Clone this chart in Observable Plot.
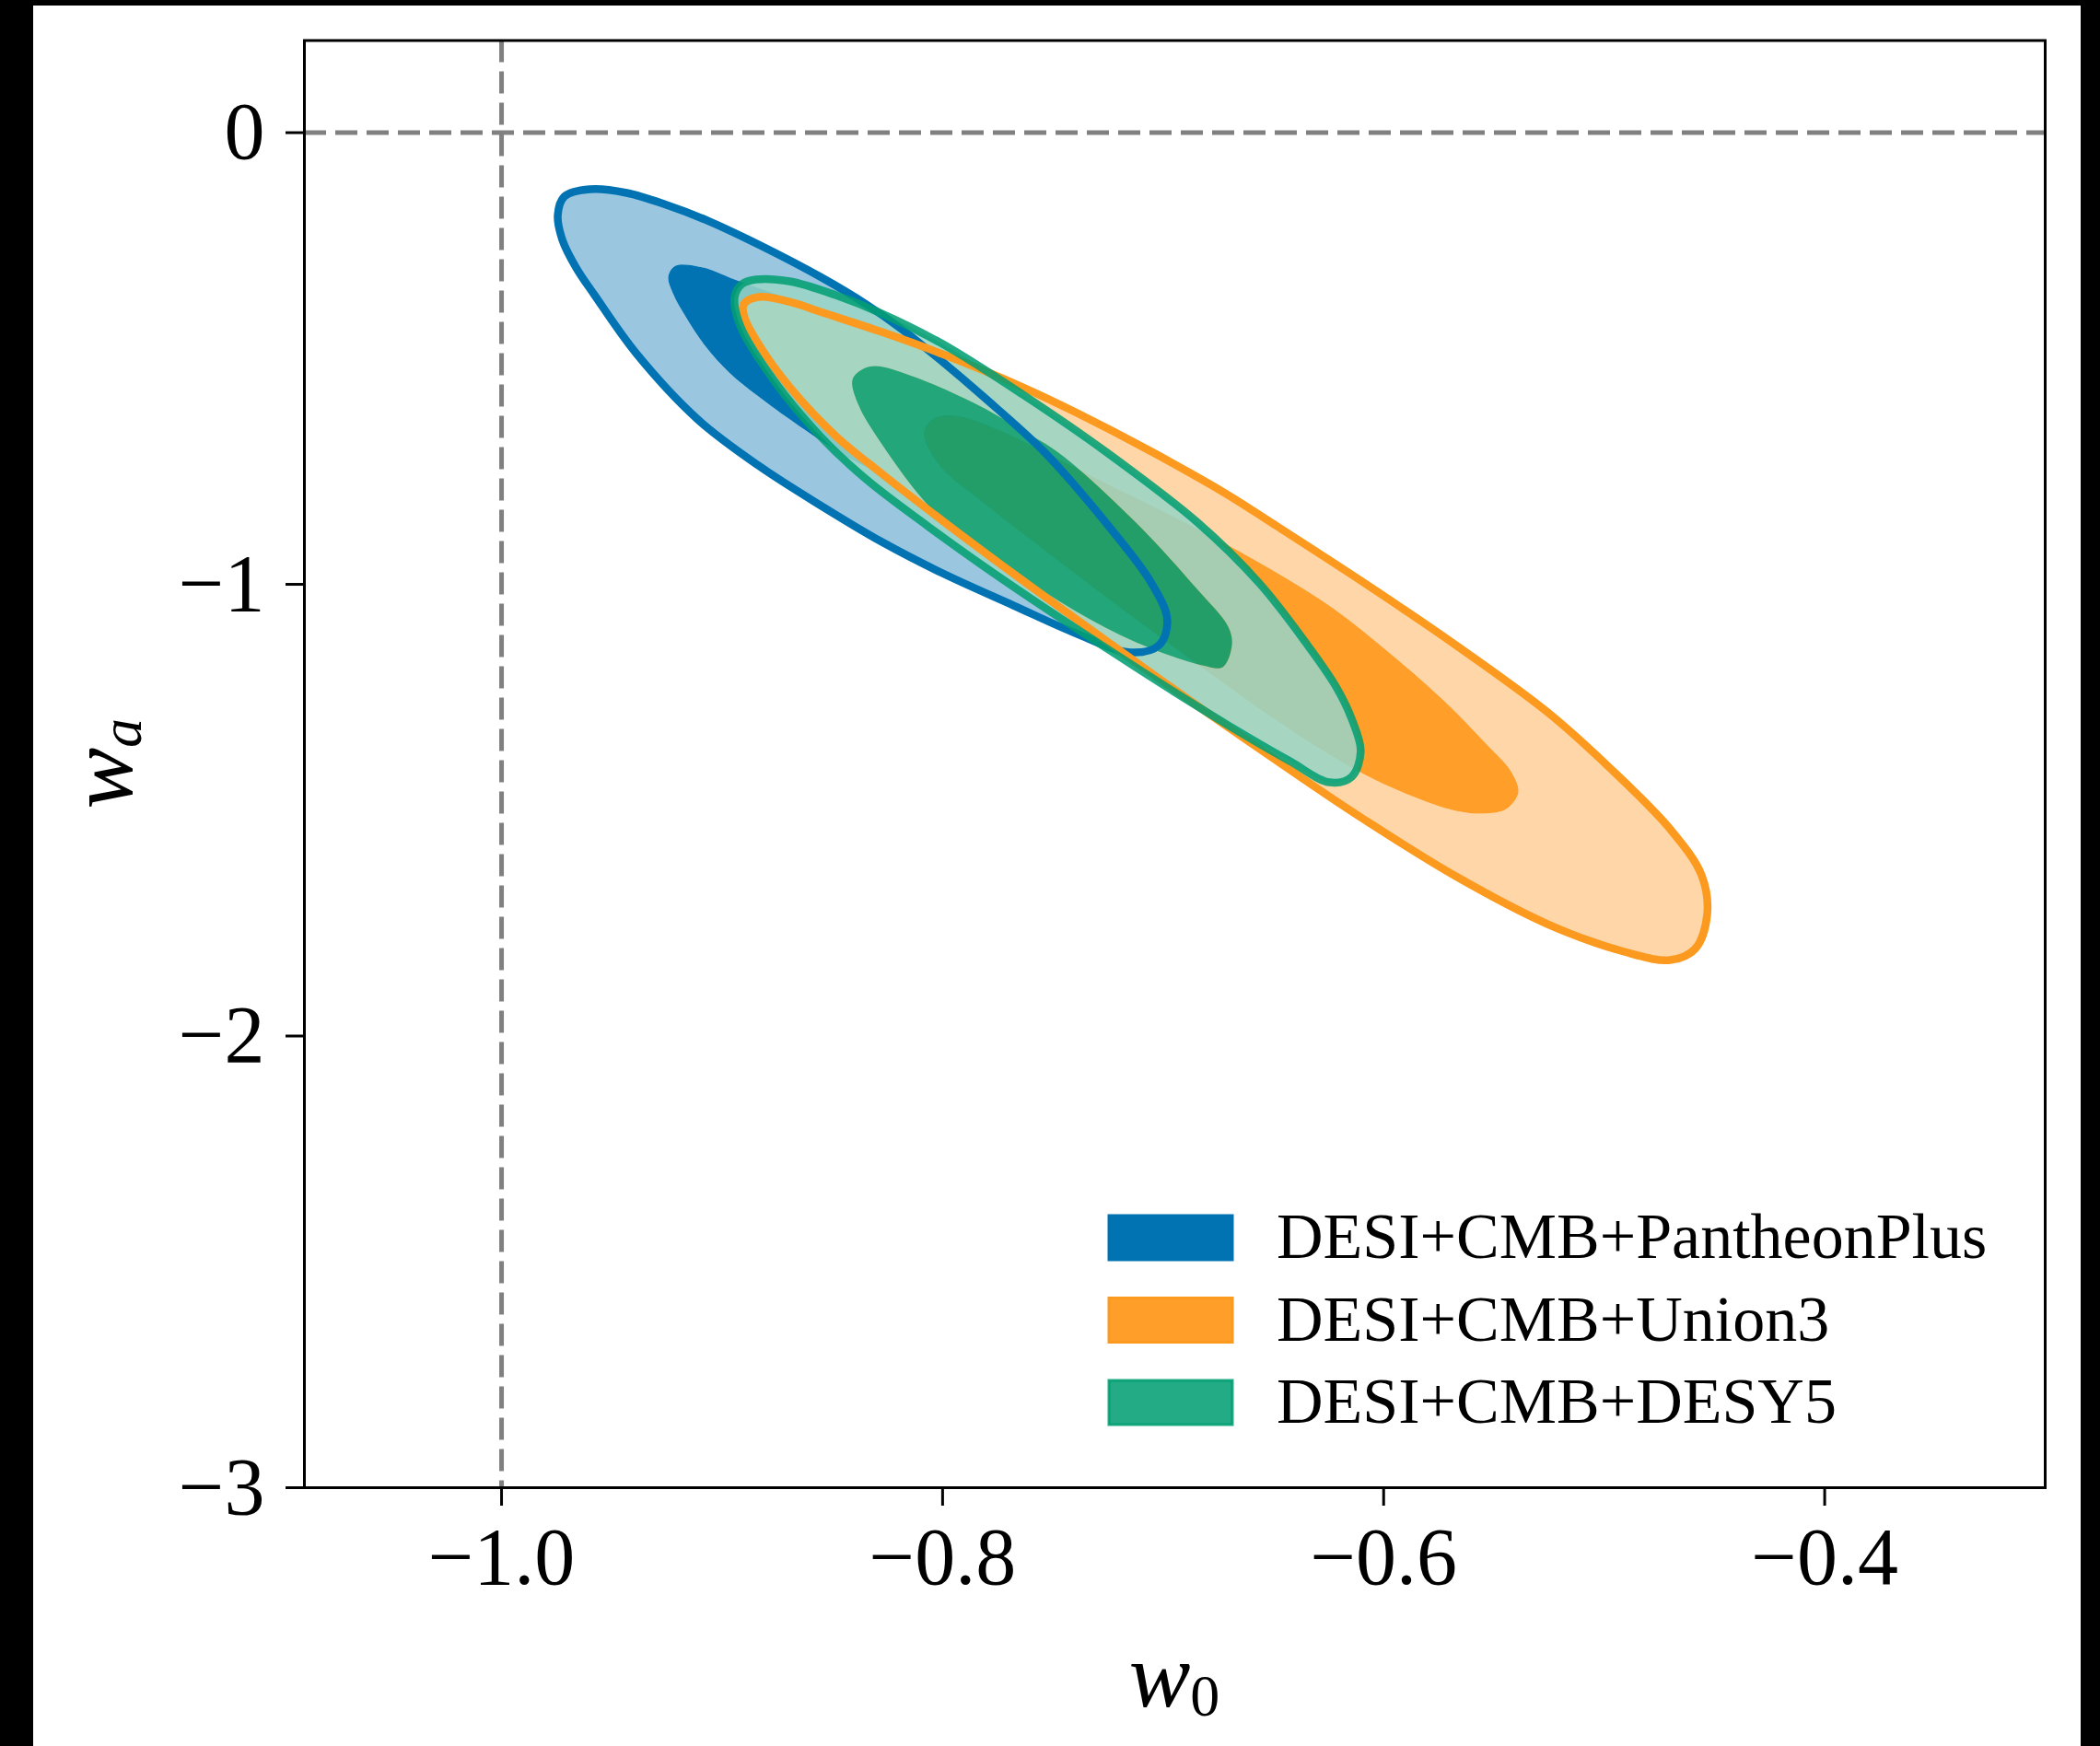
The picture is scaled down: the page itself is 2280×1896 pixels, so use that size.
<!DOCTYPE html>
<html>
<head>
<meta charset="utf-8">
<script src="https://cdn.jsdelivr.net/npm/d3@7"></script>
<script src="https://cdn.jsdelivr.net/npm/@observablehq/plot@0.6"></script>
<style>
  html, body { margin: 0; padding: 0; background: #000; }
  #page { position: absolute; left: 36px; top: 6px; width: 2223px; height: 1890px; background: #fff; overflow: hidden; }
</style>
</head>
<body>
<div id="page"></div>
<script>
// ---------- axes ----------
const xDomain = [-1.0894, -0.3];
const yDomain = [-3, 0.204];
const xTicks = [-1.0, -0.8, -0.6, -0.4];
const xTickLabels = ["\u22121.0", "\u22120.8", "\u22120.6", "\u22120.4"];
const yTicks = [0, -1, -2, -3];
const yTickLabels = ["0", "\u22121", "\u22122", "\u22123"];
const refW0 = [-1.0];
const refWa = [0];

// ---------- series ----------
const seriesNames = ["DESI+CMB+PantheonPlus", "DESI+CMB+Union3", "DESI+CMB+DESY5"];
const lineColors = ["#0173b2", "#fb9a1f", "#029e73"];
const lineOpacity = [1, 1, 0.87];
const outerFill = ["#9ac6e0", "#fed6a7", "#99d5c6"];
const innerFill = ["#0173b2", "#ff9e28", "#029e73"];
const fillOpacity = [1, 1, 0.87];

// contour outlines [w0, wa] (95% and 68% regions)
const pantheon95 = [
  [-0.9745,-0.1825],[-0.9716,-0.1417],[-0.9599,-0.1254],[-0.9432,-0.1335],[-0.9252,-0.1600],
  [-0.9056,-0.1967],[-0.8835,-0.2477],[-0.8555,-0.3191],[-0.8346,-0.3802],[-0.8179,-0.4373],
  [-0.8012,-0.5025],[-0.7816,-0.5841],[-0.7540,-0.7064],[-0.7260,-0.8634],[-0.7052,-0.9979],
  [-0.6981,-1.0795],[-0.7018,-1.1345],[-0.7148,-1.1508],[-0.7398,-1.1080],[-0.7678,-1.0469],
  [-0.8000,-0.9755],[-0.8275,-0.9062],[-0.8555,-0.8247],[-0.8835,-0.7370],[-0.9110,-0.6350],
  [-0.9390,-0.4883],[-0.9578,-0.3598],[-0.9662,-0.2987],[-0.9724,-0.2375]
];
const pantheon68 = [
  [-0.9244,-0.3191],[-0.9211,-0.2946],[-0.9085,-0.2987],[-0.8943,-0.3252],[-0.8722,-0.3639],
  [-0.8513,-0.4067],[-0.8263,-0.4781],[-0.7970,-0.5800],[-0.7720,-0.6860],[-0.7615,-0.7778],
  [-0.7678,-0.8287],[-0.7887,-0.8185],[-0.8158,-0.7778],[-0.8417,-0.7227],[-0.8626,-0.6575],
  [-0.8835,-0.5841],[-0.8964,-0.5331],[-0.9077,-0.4720],[-0.9161,-0.4108],[-0.9223,-0.3558]
];
const union95 = [
  [-0.8902,-0.3802],[-0.8835,-0.3639],[-0.8680,-0.3761],[-0.8555,-0.3965],[-0.8275,-0.4414],
  [-0.8000,-0.4903],[-0.7636,-0.5637],[-0.7398,-0.6187],[-0.7052,-0.7064],[-0.6705,-0.8022],
  [-0.6509,-0.8634],[-0.6091,-0.9959],[-0.5673,-1.1345],[-0.5256,-1.2834],[-0.4976,-1.4057],
  [-0.4700,-1.5423],[-0.4558,-1.6442],[-0.4533,-1.7319],[-0.4588,-1.8073],[-0.4700,-1.8318],
  [-0.4909,-1.8134],[-0.5256,-1.7523],[-0.5673,-1.6463],[-0.6091,-1.5199],[-0.6342,-1.4383],
  [-0.6634,-1.3404],[-0.6968,-1.2263],[-0.7260,-1.1243],[-0.7636,-0.9918],[-0.8000,-0.8594],
  [-0.8275,-0.7553],[-0.8484,-0.6718],[-0.8693,-0.5637],[-0.8835,-0.4679],[-0.8897,-0.4108]
];
const union68 = [
  [-0.8083,-0.6656],[-0.8045,-0.6350],[-0.7949,-0.6269],[-0.7749,-0.6575],[-0.7565,-0.7003],
  [-0.7260,-0.7757],[-0.6843,-0.8777],[-0.6509,-0.9674],[-0.6229,-1.0530],[-0.5966,-1.1549],
  [-0.5728,-1.2569],[-0.5536,-1.3527],[-0.5423,-1.4138],[-0.5389,-1.4607],[-0.5444,-1.4974],
  [-0.5548,-1.5076],[-0.5673,-1.5015],[-0.5882,-1.4669],[-0.6091,-1.4199],[-0.6300,-1.3608],
  [-0.6509,-1.2937],[-0.6705,-1.2263],[-0.7123,-1.0775],[-0.7565,-0.9143],[-0.7816,-0.8185],
  [-0.8012,-0.7370]
];
const desy95 = [
  [-0.8943,-0.3639],[-0.8910,-0.3354],[-0.8847,-0.3252],[-0.8693,-0.3292],[-0.8484,-0.3598],
  [-0.8275,-0.4006],[-0.8000,-0.4679],[-0.7636,-0.5800],[-0.7260,-0.7064],[-0.6843,-0.8634],
  [-0.6563,-0.9979],[-0.6354,-1.1284],[-0.6216,-1.2263],[-0.6145,-1.2976],[-0.6104,-1.3690],
  [-0.6145,-1.4261],[-0.6246,-1.4383],[-0.6425,-1.3914],[-0.6705,-1.3119],[-0.6981,-1.2283],
  [-0.7260,-1.1406],[-0.7540,-1.0510],[-0.7816,-0.9592],[-0.8066,-0.8716],[-0.8346,-0.7676],
  [-0.8555,-0.6718],[-0.8764,-0.5494],[-0.8918,-0.4271]
];
const desy68 = [
  [-0.8409,-0.5474],[-0.8367,-0.5250],[-0.8304,-0.5168],[-0.8137,-0.5392],[-0.7858,-0.5984],
  [-0.7636,-0.6595],[-0.7469,-0.7105],[-0.7123,-0.8634],[-0.6843,-1.0122],[-0.6705,-1.0938],
  [-0.6688,-1.1341],[-0.6730,-1.1834],[-0.6822,-1.1793],[-0.7123,-1.1284],[-0.7398,-1.0591],
  [-0.7678,-0.9715],[-0.7958,-0.8756],[-0.8096,-0.8083],[-0.8275,-0.6901],[-0.8380,-0.6045]
];

const contours = [[pantheon95, pantheon68], [union95, union68], [desy95, desy68]];
const pts = arr => arr.map(([w0, wa]) => ({w0, wa}));

const W = 2223, H = 1890;
const mL = 294, mR = 39, mT = 37.5, mB = 281;

const marks = [
  Plot.ruleX(refW0, {stroke: "#808080", strokeWidth: 5, strokeDasharray: "24,10"}),
  Plot.ruleY(refWa, {stroke: "#808080", strokeWidth: 5, strokeDasharray: "24,10"})
];
contours.forEach(([outer, inner], k) => {
  marks.push(Plot.line(pts(outer), {x: "w0", y: "wa", curve: "catmull-rom-closed",
    fill: outerFill[k], fillOpacity: fillOpacity[k], stroke: "none"}));
  marks.push(Plot.line(pts(inner), {x: "w0", y: "wa", curve: "catmull-rom-closed",
    fill: innerFill[k], fillOpacity: fillOpacity[k], stroke: "none"}));
});
contours.forEach(([outer], k) => {
  marks.push(Plot.line(pts(outer), {x: "w0", y: "wa", curve: "catmull-rom-closed",
    stroke: lineColors[k], strokeOpacity: lineOpacity[k], strokeWidth: 8.5, fill: "none"}));
});
marks.push(Plot.axisX(xTicks, {tickSize: 20, tickPadding: 22, strokeWidth: 3,
  tickFormat: d => xTickLabels[xTicks.indexOf(d)], label: null}));
marks.push(Plot.axisY(yTicks, {tickSize: 20, tickPadding: 23, strokeWidth: 3,
  tickFormat: d => yTickLabels[yTicks.indexOf(d)], label: null}));
marks.push(Plot.frame({stroke: "black", strokeWidth: 3}));

const plot = Plot.plot({
  width: W, height: H,
  marginLeft: mL, marginRight: mR, marginTop: mT, marginBottom: mB,
  x: {domain: xDomain},
  y: {domain: yDomain},
  style: {background: "transparent", fontFamily: "'Liberation Serif', serif", fontSize: "88px", color: "black"},
  marks
});
document.getElementById("page").appendChild(plot);

// the 95% fill is a band (outer ring minus the 68% region), like filled contours:
// the first six line groups are the fills, in order outer/inner per series
const lineGroups = plot.querySelectorAll('g[aria-label="line"]');
contours.forEach((_, k) => {
  const go = lineGroups[2 * k], gi = lineGroups[2 * k + 1];
  const outerPath = go && go.querySelector("path");
  const innerPath = gi && gi.querySelector("path");
  if (outerPath && innerPath) {
    outerPath.setAttribute("d", outerPath.getAttribute("d") + innerPath.getAttribute("d"));
    outerPath.setAttribute("fill-rule", "evenodd");
  }
});

const svg = d3.select(plot);
const fontFam = "'Liberation Serif', serif";

// x-axis label: w_0
const xl = svg.append("text")
  .attr("x", mL + (W - mL - mR) / 2)
  .attr("y", 1847)
  .attr("text-anchor", "middle")
  .attr("font-family", fontFam)
  .attr("fill", "black");
xl.append("tspan").attr("font-style", "italic").attr("font-size", 100).text("w");
xl.append("tspan").attr("font-size", 64).attr("dy", 10).text("0");

// y-axis label: w_a
const yl = svg.append("text")
  .attr("transform", `translate(107,${mT + (H - mT - mB) / 2}) rotate(-90)`)
  .attr("text-anchor", "middle")
  .attr("font-family", fontFam)
  .attr("fill", "black");
yl.append("tspan").attr("font-style", "italic").attr("font-size", 100).text("w");
yl.append("tspan").attr("font-style", "italic").attr("font-size", 64).attr("dy", 10).text("a");

// legend (inside the axes, lower right)
const legend = svg.append("g").attr("font-family", fontFam).attr("text-anchor", "start");
const legX = 1168, legY0 = 1338, legDy = 89.5;
seriesNames.forEach((name, k) => {
  const cy = legY0 + k * legDy;
  legend.append("rect")
    .attr("x", legX).attr("y", cy - 24).attr("width", 134).attr("height", 48)
    .attr("fill", innerFill[k]).attr("fill-opacity", fillOpacity[k])
    .attr("stroke", lineColors[k]).attr("stroke-opacity", lineOpacity[k]).attr("stroke-width", 3);
  legend.append("text")
    .attr("x", 1350).attr("y", cy + 22)
    .attr("text-anchor", "start")
    .attr("font-size", 70).attr("fill", "black")
    .text(name);
});
</script>
</body>
</html>
